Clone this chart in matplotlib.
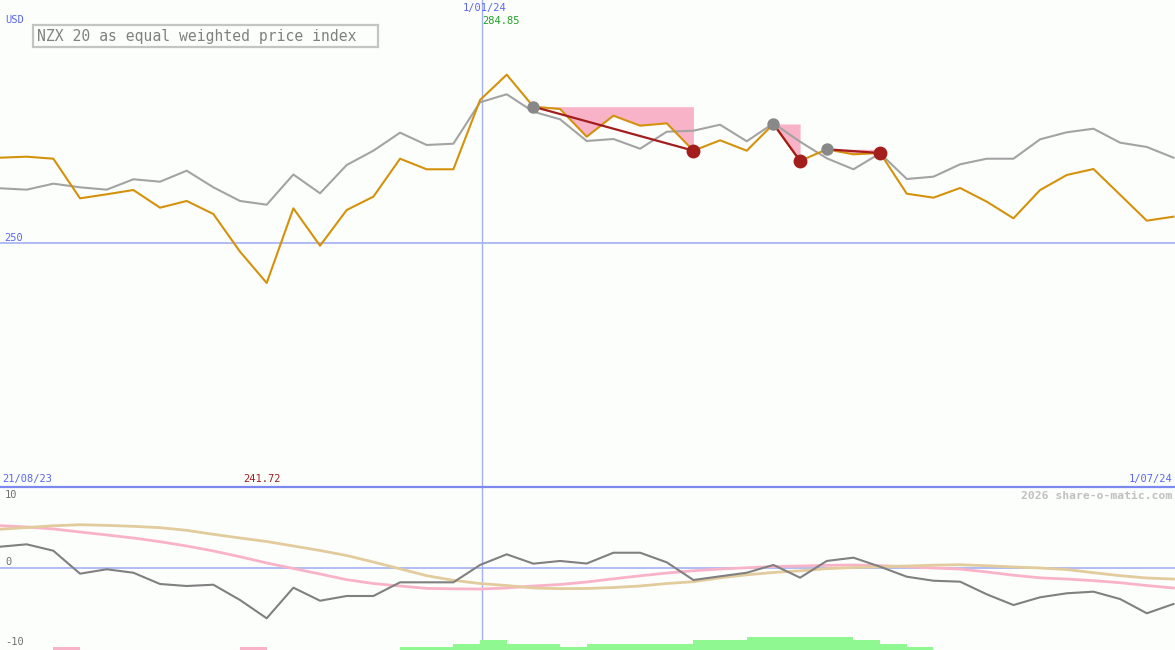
import matplotlib
matplotlib.use('Agg')
import matplotlib.pyplot as plt
from matplotlib.lines import Line2D
from matplotlib.patches import Rectangle

plt.rcParams['font.family'] = ['DejaVu Sans Mono']

W, H = 1175, 650

# ---- data (weekly points, 21/08/23 .. 1/07/24) ----
price = [267.66, 267.87, 267.45, 259.25, 260.08, 260.97, 257.31, 258.70, 256.00, 248.20,
         241.72, 257.18, 249.44, 256.83, 259.59, 267.45, 265.26, 265.26, 279.61, 284.85,
         278.22, 277.74, 272.01, 276.36, 274.29, 274.78, 269.11, 271.26, 269.11, 274.64,
         266.98, 269.40, 268.36, 268.63, 260.21, 259.38, 261.39, 258.55, 255.11, 260.97,
         264.08, 265.32, 259.98, 254.62, 255.45]
index_line = [261.33, 261.04, 262.28, 261.53, 261.04, 263.19, 262.69, 264.97, 261.53, 258.70,
              257.93, 264.18, 260.29, 266.15, 269.11, 272.84, 270.29, 270.56, 279.13, 280.79,
              277.18, 275.61, 271.12, 271.53, 269.52, 273.04, 273.25, 274.49, 271.06, 274.78,
              270.97, 267.54, 265.26, 268.57, 263.25, 263.73, 266.29, 267.45, 267.45, 271.47,
              272.92, 273.66, 270.77, 269.88, 267.66]
momentum = [2.66, 2.96, 2.16, -0.71, -0.16, -0.59, -2.00, -2.25, -2.09, -4.00,
            -6.29, -2.46, -4.09, -3.50, -3.50, -1.79, -1.79, -1.79, 0.38, 1.71,
            0.54, 0.88, 0.56, 1.91, 1.91, 0.71, -1.50, -1.04, -0.59, 0.38,
            -1.21, 0.88, 1.29, 0.16, -1.09, -1.59, -1.71, -3.29, -4.63, -3.66,
            -3.16, -2.96, -3.88, -5.66, -4.50]
fast_avg = [5.29, 5.13, 4.88, 4.50, 4.13, 3.75, 3.29, 2.75, 2.13, 1.41,
            0.63, -0.06, -0.75, -1.46, -1.94, -2.25, -2.55, -2.60, -2.63, -2.50,
            -2.25, -2.06, -1.75, -1.35, -0.98, -0.63, -0.34, -0.13, 0.03, 0.18,
            0.25, 0.33, 0.38, 0.30, 0.15, 0.00, -0.13, -0.50, -0.90, -1.23,
            -1.38, -1.58, -1.84, -2.19, -2.50]
slow_avg = [4.84, 5.06, 5.28, 5.41, 5.33, 5.21, 5.04, 4.71, 4.21, 3.75,
            3.31, 2.75, 2.19, 1.56, 0.75, -0.10, -0.96, -1.54, -1.94, -2.19,
            -2.50, -2.58, -2.56, -2.44, -2.25, -1.94, -1.71, -1.23, -0.85, -0.56,
            -0.35, -0.08, 0.06, 0.16, 0.25, 0.35, 0.41, 0.28, 0.13, 0.00,
            -0.19, -0.59, -0.96, -1.25, -1.38]
# signal bars: +n green, -n pink, per weekly interval
signal = [0, 0, -1, 0, 0, 0, 0, 0, 0, -1,
          0, 0, 0, 0, 0, 1, 1, 2, 3, 2,
          2, 1, 2, 2, 2, 2, 3, 3, 4, 4,
          4, 4, 3, 2, 1, 0, 0, 0, 0, 0,
          0, 0, 0, 0]
# drawdown episodes: (peak index, trough index)
drawdowns = [(20, 26), (29, 30), (31, 33)]

start_label, end_label, year_label = '21/08/23', '1/07/24', '1/01/24'
year_pos = 18.07
hi_val, lo_val = 284.85, 241.72
title = 'NZX 20 as equal weighted price index'

BG = '#fcfefc'
ORANGE = '#d4920c'
GREY = '#a3a3a3'
DGREY = '#808080'
PINK = '#f9b3c9'
TAN = '#e2cb9c'
RED = '#a31d1d'
BLUE = '#5a66f0'
LBLUE = '#a4b0f2'

x = list(range(len(price)))
xmax = 1175 / 26.67

fig = plt.figure(figsize=(W / 100, H / 100), dpi=100, facecolor=BG)
ax = fig.add_axes([0, 163 / H, 1, 487 / H])
ax2 = fig.add_axes([0, 0, 1, 163 / H])
for a in (ax, ax2):
    a.set_facecolor(BG)
    a.set_xlim(0, xmax)
    a.axis('off')
ax.set_ylim(199.48, 300.31)
ax2.set_ylim(-10.25, 10.125)

# ---- top panel ----
ax.axhline(250, color=LBLUE, lw=1.2, zorder=1)
ax.axvline(year_pos, color=LBLUE, lw=1.0, zorder=1)
ax2.axvline(year_pos, color=LBLUE, lw=1.0, zorder=1)

for p, t in drawdowns:
    xs = x[p:t + 1]
    ys = price[p:t + 1]
    top = price[p]
    ax.fill_between(xs, ys, [top] * len(xs), where=[v <= top for v in ys],
                    color=PINK, lw=0, zorder=2, interpolate=True)

ax.plot(x, index_line, color=GREY, lw=1.5, zorder=3)
ax.plot(x, price, color=ORANGE, lw=1.5, zorder=4)

for p, t in drawdowns:
    ax.plot([p, t], [price[p], price[t]], color=RED, lw=1.6, zorder=5)
    ax.scatter([p], [price[p]], s=80, color='#888888', zorder=6, lw=0)
    ax.scatter([t], [price[t]], s=100, color=RED, zorder=6, lw=0)

# ---- bottom panel ----
ax2.axhline(0, color=LBLUE, lw=1.2, zorder=1)
ax2.plot(x, fast_avg, color=PINK, lw=2.0, zorder=2)
ax2.plot(x, slow_avg, color=TAN, lw=2.0, zorder=2)
ax2.plot(x, momentum, color=DGREY, lw=1.5, zorder=3)
unit = 3.2 / 8  # bar step height in panel units
for i, s in enumerate(signal):
    if s == 0:
        continue
    ax2.add_patch(Rectangle((i, -10.25), 1, abs(s) * unit, lw=0,
                            color='#90f890' if s > 0 else PINK, zorder=2))

# separator line between panels
fig.add_artist(Line2D([0, 1], [1 - 487 / H] * 2, color='#7c88f0', lw=1.6))


def px(xp, yp):
    return xp / W, 1 - yp / H


fs = 7.5
fig.text(*px(5, 20), 'USD', color=BLUE, fontsize=fs, va='center')
fig.text(*px(4, 238), '250', color=BLUE, fontsize=fs, va='center')
fig.text(*px(485, 8), year_label, color=BLUE, fontsize=fs, va='center', ha='center')
fig.text(*px(482, 21), f'{hi_val:.2f}', color='#22a022', fontsize=fs, va='center')
fig.text(*px(2, 479), start_label, color=BLUE, fontsize=fs, va='center')
fig.text(*px(243, 479), f'{lo_val:.2f}', color='#a02020', fontsize=fs, va='center')
fig.text(*px(1172, 479), end_label, color=BLUE, fontsize=fs, va='center', ha='right')
fig.text(*px(1172, 496), '2026 share-o-matic.com', color='#c0c0c0', fontsize=8.2,
         va='center', ha='right', fontweight='bold')
fig.text(*px(5, 495), '10', color='#707070', fontsize=fs, va='center')
fig.text(*px(5, 562), '0', color='#707070', fontsize=fs, va='center')
fig.text(*px(5, 642), '-10', color='#707070', fontsize=fs, va='center')

# title box
x0, y0 = px(33, 47)
x1, y1 = px(378, 25)
fig.add_artist(Rectangle((x0, y0), x1 - x0, y1 - y0, transform=fig.transFigure,
                         fc=BG, ec='#c4c4c4', lw=1.6, zorder=5))
fig.text(*px(37, 36), title, color='#808080', fontsize=10.6, va='center',
         ha='left', zorder=6)

fig.savefig('out.png', dpi=100, facecolor=BG)
